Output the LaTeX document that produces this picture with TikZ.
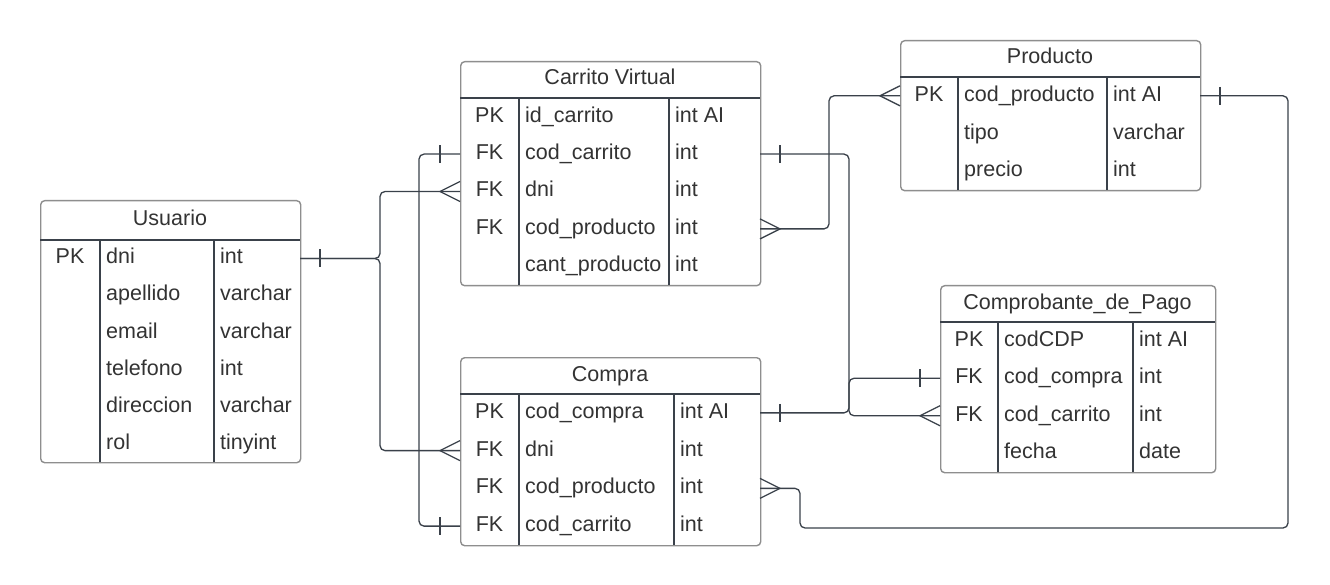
\documentclass[tikz,border=0pt]{standalone}
\usepackage{fontspec}
\setmainfont{Liberation Sans}
\usetikzlibrary{calc}
\definecolor{txt}{HTML}{333333}
\definecolor{bord}{HTML}{8E8E8E}
\definecolor{ln}{HTML}{3A414A}
\tikzset{
  tbl/.style={draw=bord, line width=1.4, rounded corners=4, inner sep=0, fill=white},
  inner/.style={draw=ln, line width=1.1},
  conn/.style={draw=ln, line width=1.3, rounded corners=5},
  mk/.style={draw=ln, line width=1.3},
  cell/.style={inner sep=0, text=txt, font=\fontsize{21.5}{25}\selectfont, text height=15.5, text depth=4.5},
}
\newcommand\ertab[9]{%
  \def\erX{#2}\def\erA{#3}\def\erB{#4}\def\erW{#5}\def\erHd{#7}%
  \node[tbl, minimum width=#5-#2, minimum height=#8-#6, anchor=north west] (#1) at (#2,#6) {};
  \draw[inner] (#2,#7) -- (#5,#7);
  \draw[inner] (#3,#7) -- (#3,#8);
  \draw[inner] (#4,#7) -- (#4,#8);
  \node[cell] (#1-title) at ({(#2+#5)/2},{(#6+#7)/2}) {#9};
}
\newcommand\ertrows[3]{%
  \foreach \k/\n/\t [count=\i] in {#3} {
    \pgfmathsetmacro\yy{\erHd+(\i-0.5)*#2}
    \node[cell] (#1-\i-k) at ({(\erX+\erA)/2},\yy) {\k};
    \node[cell, anchor=west] (#1-\i-n) at (\erA+6,\yy) {\n};
    \node[cell, anchor=west] (#1-\i-t) at (\erB+6,\yy) {\t};
    \coordinate (#1-\i-L) at (\erX,\yy);
    \coordinate (#1-\i-R) at (\erW,\yy);
  }
}
\newcommand\crowL[1]{\draw[mk] ($(#1)+(0,-10)$) -- ($(#1)+(-20,0)$) -- ($(#1)+(0,10)$);}
\newcommand\crowR[1]{\draw[mk] ($(#1)+(0,-10)$) -- ($(#1)+(20,0)$) -- ($(#1)+(0,10)$);}
\newcommand\barL[1]{\draw[mk] ($(#1)+(-20,-9)$) -- ($(#1)+(-20,9)$);}
\newcommand\barR[1]{\draw[mk] ($(#1)+(20,-9)$) -- ($(#1)+(20,9)$);}
\begin{document}
\begin{tikzpicture}[x=1pt,y=-1pt]
\useasboundingbox[fill=white] (0,0) rectangle (1330,585);

% connectors first (under tables)
\coordinate (loop) at (1288,528);

\ertab{usr}{40}{100}{214}{300}{200}{240}{462}{Usuario}
\ertrows{usr}{37}{PK/dni/int, /apellido/varchar, /email/varchar, /telefono/int, /direccion/varchar, /rol/tinyint}

\ertab{car}{460}{519}{669}{760}{61}{98}{285}{Carrito Virtual}
\ertrows{car}{37.4}{PK/id\_carrito/int AI, FK/cod\_carrito/int, FK/dni/int, FK/cod\_producto/int, /cant\_producto/int}

\ertab{prd}{900}{958}{1107}{1200}{40}{77}{190}{Producto}
\ertrows{prd}{37.67}{PK/cod\_producto/int AI, /tipo/varchar, /precio/int}

\ertab{cdp}{940}{998}{1133}{1215}{285}{322}{472}{Comprobante\_de\_Pago}
\ertrows{cdp}{37.5}{PK/codCDP/int AI, FK/cod\_compra/int, FK/cod\_carrito/int, /fecha/date}

\ertab{com}{460}{519}{674}{760}{357}{394}{545}{Compra}
\ertrows{com}{37.75}{PK/cod\_compra/int AI, FK/dni/int, FK/cod\_producto/int, FK/cod\_carrito/int}

% Usuario -> Carrito / Compra
\draw[conn] (usr-1-R) -- ++(80,0) |- (car-3-L);
\draw[conn] (usr-1-R) -- ++(80,0) |- (com-2-L);
\barR{usr-1-R}
\crowL{car-3-L}
\crowL{com-2-L}

% Carrito cod_carrito <-> Compra cod_carrito
\draw[conn] (car-2-L) -- ++(-41,0) |- (com-4-L);
\barL{car-2-L}
\barL{com-4-L}

% Carrito cod_producto -> Producto
\draw[conn] (car-4-R) -- ++(69,0) |- (prd-1-L);
\crowR{car-4-R}
\crowL{prd-1-L}

% Carrito cod_carrito -> Comprobante cod_carrito
\draw[conn] (car-2-R) -- ++(89,0) |- (cdp-3-L);
\barR{car-2-R}
\crowL{cdp-3-L}

% Compra cod_compra -> Comprobante cod_compra
\draw[conn] (com-1-R) -- ++(89,0) |- (cdp-2-L);
\barR{com-1-R}
\barL{cdp-2-L}

% Compra cod_producto -> Producto
\draw[conn] (com-3-R) -- ++(40,0) |- (loop) |- (prd-1-R);
\crowR{com-3-R}
\barR{prd-1-R}
\end{tikzpicture}
\end{document}
